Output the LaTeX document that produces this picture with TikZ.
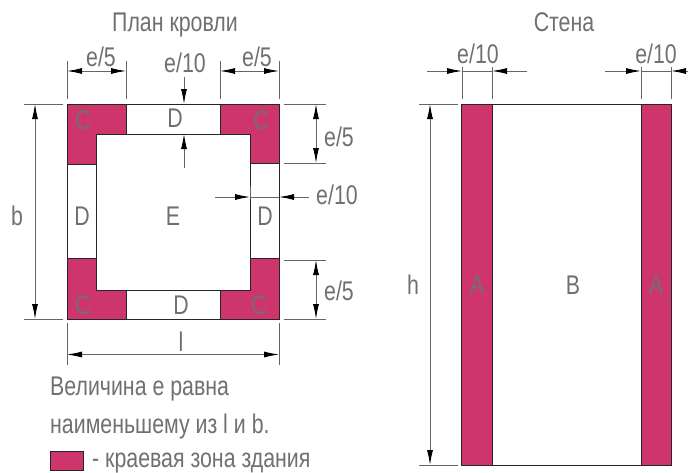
\documentclass[tikz,border=0pt]{standalone}
\usepackage{fontspec}
\setmainfont[FakeStretch=0.79]{Liberation Sans}
\usetikzlibrary{arrows.meta}
\definecolor{zone}{HTML}{CE356C}
\definecolor{txt}{HTML}{707070}
\tikzset{
  x=1pt,y=-1pt,
  lab/.style={text=txt,font=\fontsize{27}{27}\selectfont,inner sep=0pt,anchor=base},
  zonefill/.style={fill=zone,draw=black!85,line width=1pt,line join=miter},
  plain/.style={draw=black!85,line width=0.9pt},
  ext/.style={draw=black!60,line width=0.9pt},
  dim/.style={draw=black!60,line width=0.9pt,{Latex[length=15pt,width=6pt,black]}-{Latex[length=15pt,width=6pt,black]}},
  lead/.style={draw=black!60,line width=0.9pt,-{Latex[length=15pt,width=6pt,black]}}
}
\begin{document}
\begin{tikzpicture}
\useasboundingbox (0,0) rectangle (688,472);
\coordinate (TL) at (67,104); \coordinate (TR) at (279,104);
\coordinate (BL) at (67,319); \coordinate (BR) at (279,319);
\draw[plain] (126,104) -- (220,104) (126,134) -- (220,134);
\draw[plain] (126,319) -- (220,319) (126,290) -- (220,290);
\draw[plain] (TL) -- (BL) (TR) -- (BR);
\draw[plain] (96.5,134) -- (96.5,290) (250,134) -- (250,290);
\draw[zonefill] (67,104) -- (126,104) -- (126,134) -- (96.5,134) -- (96.5,164) -- (67,164) -- cycle;
\draw[zonefill] (279,104) -- (220,104) -- (220,134) -- (250,134) -- (250,163) -- (279,163) -- cycle;
\draw[zonefill] (67,258) -- (96.5,258) -- (96.5,290) -- (126,290) -- (126,319) -- (67,319) -- cycle;
\draw[zonefill] (279,258) -- (250,258) -- (250,290) -- (220,290) -- (220,319) -- (279,319) -- cycle;
\draw[zonefill] (461.5,104) rectangle (492,465);
\draw[zonefill] (641,104) rectangle (671,465);
\draw[plain] (492,104) -- (641,104) (492,465) -- (641,465);
\draw[ext] (67,61) -- (67,99) (126,61) -- (126,99) (220,61) -- (220,99) (279,61) -- (279,99);
\draw[ext] (24,104) -- (63,104) (24,319) -- (63,319);
\draw[ext] (284,104) -- (326,104) (284,163) -- (326,163) (284,260) -- (326,260) (284,319) -- (326,319);
\draw[ext] (67,323) -- (67,365) (279,323) -- (279,365);
\draw[ext] (462,67) -- (462,99) (492,67) -- (492,99) (641,67) -- (641,99) (671,67) -- (671,99);
\draw[ext] (419,104) -- (458,104) (419,465) -- (458,465);
\draw[ext] (250,186) -- (250,199);
\draw[dim] (67,71) -- (126,71);
\draw[dim] (220,71) -- (279,71);
\draw[dim] (35,104) -- (35,319);
\draw[dim] (67,354.5) -- (279,354.5);
\draw[dim] (316,104) -- (316,163);
\draw[dim] (316,260) -- (316,319);
\draw[dim] (430,104) -- (430,465);
\draw[lead] (184,77) -- (184,104);
\draw[lead] (184,168) -- (184,134);
\draw[lead] (215,197) -- (250,197);
\draw[lead] (309,197) -- (279,197);
\draw[ext] (250,197) -- (279,197);
\draw[lead] (427,71) -- (462,71);
\draw[lead] (527,71) -- (492,71);
\draw[lead] (605,71) -- (641,71);
\draw[lead] (688,71) -- (671,71);
\draw[ext] (462,71) -- (492,71) (641,71) -- (671,71);
\node[lab] at (175,31) {План кровли};
\node[lab] at (564,31) {Стена};
\node[lab] at (101,66) {e/5};
\node[lab] at (257,66) {e/5};
\node[lab] at (185,72) {e/10};
\node[lab] at (478,63) {e/10};
\node[lab] at (656,63) {e/10};
\node[lab] at (339,146) {e/5};
\node[lab] at (337,204) {e/10};
\node[lab] at (339,300) {e/5};
\node[lab] at (17,225) {b};
\node[lab] at (181,351) {l};
\node[lab] at (413,294) {h};
\node[lab] at (83,129) {C};
\node[lab] at (261,129) {C};
\node[lab] at (83,314) {C};
\node[lab] at (259,314) {C};
\node[lab] at (175,127) {D};
\node[lab] at (82,225) {D};
\node[lab] at (265,225) {D};
\node[lab] at (181,314) {D};
\node[lab] at (173,225) {E};
\node[lab] at (477,294) {A};
\node[lab] at (573,294) {B};
\node[lab] at (656,294) {A};
\node[lab,anchor=base west] at (50,395) {Величина е равна};
\node[lab,anchor=base west] at (50,433) {наименьшему из l и b.};
\draw[zonefill] (50,451) rectangle (83,470);
\node[lab,anchor=base west] at (92,467) {- краевая зона здания};
\end{tikzpicture}
\end{document}
